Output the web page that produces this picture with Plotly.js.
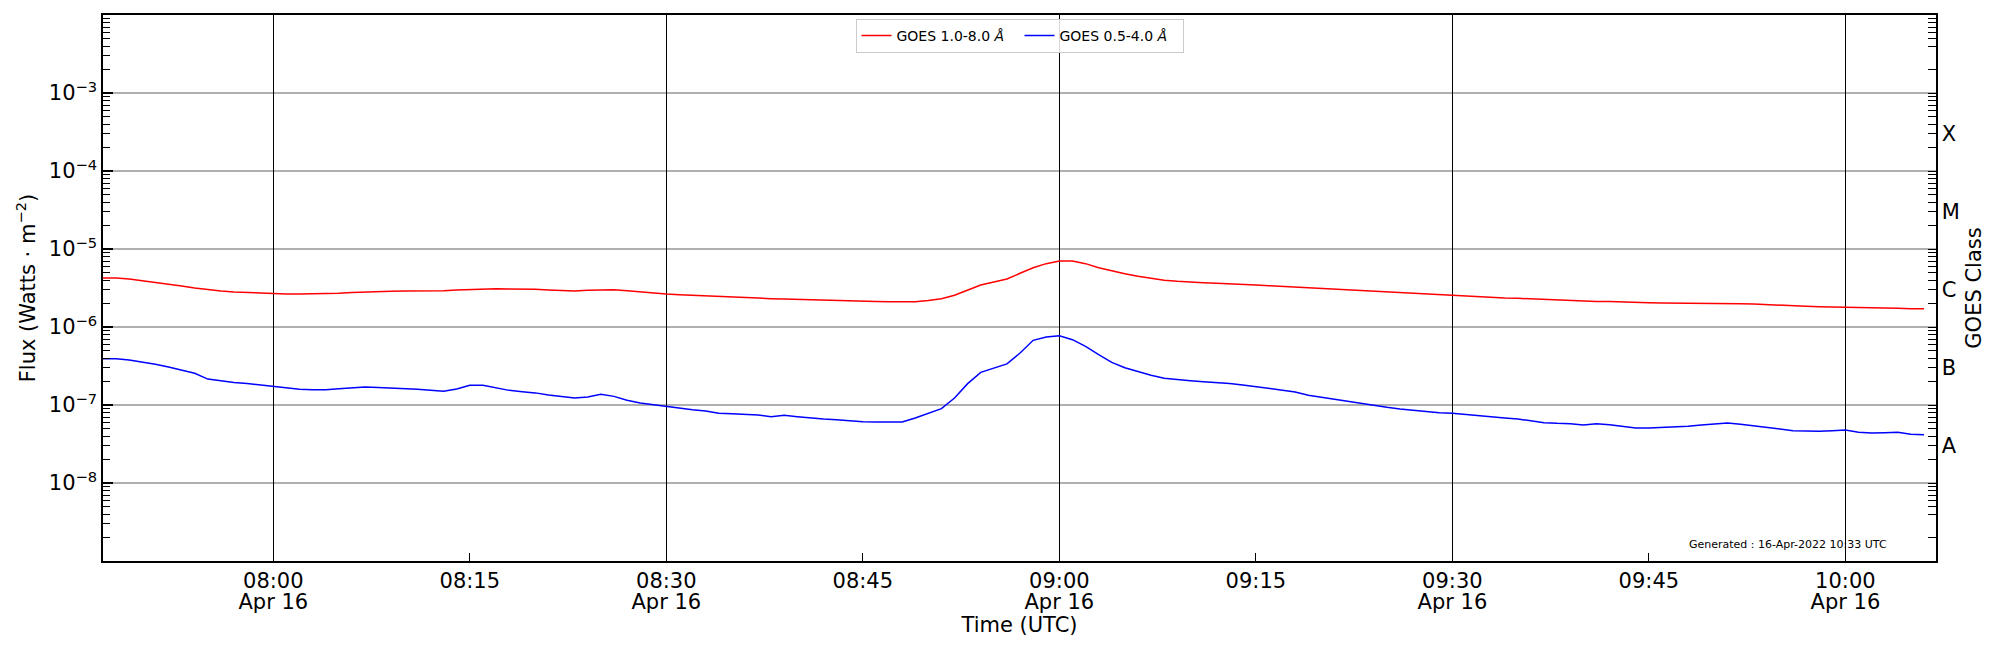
<!DOCTYPE html>
<html>
<head>
<meta charset="utf-8">
<script src="https://cdn.plot.ly/plotly-3.0.1.min.js"></script>
<style>
body { margin: 0; background: #fff; }
#goes { width: 2000px; height: 650px; }
</style>
</head>
<body>
<div id="goes"></div>
<script>
var day = "2022-04-16 ";

var times = [
	"07:47","07:48","07:49","07:50","07:51","07:52","07:53","07:54","07:55","07:56","07:57","07:58","07:59",
	"08:00","08:01","08:02","08:03","08:04","08:05","08:06","08:07","08:08","08:09","08:10","08:11","08:12","08:13","08:14",
	"08:15","08:16","08:17","08:18","08:19","08:20","08:21","08:22","08:23","08:24","08:25","08:26","08:27","08:28","08:29",
	"08:30","08:31","08:32","08:33","08:34","08:35","08:36","08:37","08:38","08:39","08:40","08:41","08:42","08:43","08:44",
	"08:45","08:46","08:47","08:48","08:49","08:50","08:51","08:52","08:53","08:54","08:55","08:56","08:57","08:58","08:59",
	"09:00","09:01","09:02","09:03","09:04","09:05","09:06","09:07","09:08","09:09","09:10","09:11","09:12","09:13","09:14",
	"09:15","09:16","09:17","09:18","09:19","09:20","09:21","09:22","09:23","09:24","09:25","09:26","09:27","09:28","09:29",
	"09:30","09:31","09:32","09:33","09:34","09:35","09:36","09:37","09:38","09:39","09:40","09:41","09:42","09:43","09:44",
	"09:45","09:46","09:47","09:48","09:49","09:50","09:51","09:52","09:53","09:54","09:55","09:56","09:57","09:58","09:59",
	"10:00","10:01","10:02","10:03","10:04","10:05","10:06"
];

// GOES 1.0-8.0 A (W m-2)
var xrsLong = [
	4.25e-6, 4.25e-6, 4.12e-6, 3.93e-6, 3.74e-6, 3.56e-6, 3.36e-6, 3.16e-6, 3.01e-6, 2.89e-6,
	2.81e-6, 2.76e-6, 2.70e-6, 2.68e-6, 2.65e-6, 2.65e-6, 2.65e-6, 2.68e-6, 2.70e-6, 2.76e-6,
	2.81e-6, 2.84e-6, 2.87e-6, 2.89e-6, 2.89e-6, 2.89e-6, 2.92e-6, 2.98e-6, 3.04e-6, 3.10e-6,
	3.10e-6,
	3.07e-6, 3.07e-6, 3.04e-6, 2.98e-6, 2.92e-6, 2.89e-6, 2.95e-6, 3.01e-6, 3.01e-6, 2.92e-6,
	2.81e-6, 2.73e-6, 2.65e-6, 2.60e-6, 2.55e-6, 2.50e-6, 2.45e-6, 2.40e-6, 2.35e-6, 2.33e-6,
	2.31e-6, 2.29e-6, 2.26e-6, 2.24e-6, 2.22e-6, 2.20e-6, 2.18e-6, 2.15e-6, 2.13e-6, 2.11e-6,
	2.09e-6, 2.11e-6, 2.18e-6, 2.31e-6, 2.55e-6, 2.95e-6, 3.46e-6, 3.78e-6, 4.12e-6, 4.88e-6,
	5.76e-6, 6.49e-6, 7.02e-6, 7.02e-6, 6.49e-6, 5.76e-6, 5.22e-6, 4.83e-6, 4.46e-6, 4.17e-6,
	3.97e-6, 3.85e-6, 3.74e-6, 3.70e-6, 3.63e-6, 3.59e-6, 3.52e-6, 3.46e-6, 3.39e-6, 3.32e-6,
	3.26e-6,
	3.16e-6, 3.10e-6, 3.04e-6, 2.98e-6, 2.92e-6, 2.87e-6, 2.78e-6, 2.73e-6, 2.68e-6, 2.62e-6,
	2.57e-6, 2.52e-6, 2.50e-6, 2.45e-6, 2.40e-6, 2.35e-6, 2.33e-6, 2.29e-6, 2.26e-6, 2.22e-6,
	2.18e-6, 2.13e-6, 2.13e-6, 2.13e-6, 2.09e-6, 2.07e-6, 2.05e-6, 2.03e-6, 2.03e-6, 2.01e-6,
	2.01e-6, 2.01e-6, 2.01e-6, 1.99e-6, 1.97e-6, 1.93e-6, 1.92e-6, 1.88e-6, 1.84e-6, 1.82e-6,
	1.81e-6, 1.81e-6, 1.79e-6, 1.77e-6, 1.75e-6, 1.74e-6, 1.72e-6, 1.72e-6
];

// GOES 0.5-4.0 A (W m-2)
var xrsShort = [
	3.93e-7, 3.93e-7, 3.78e-7, 3.56e-7, 3.32e-7, 3.07e-7, 2.81e-7, 2.55e-7, 2.15e-7, 2.03e-7,
	1.95e-7, 1.88e-7, 1.81e-7, 1.75e-7, 1.67e-7, 1.59e-7, 1.57e-7, 1.57e-7, 1.62e-7, 1.67e-7,
	1.70e-7, 1.68e-7, 1.65e-7, 1.64e-7, 1.59e-7, 1.54e-7, 1.50e-7, 1.60e-7, 1.79e-7, 1.79e-7,
	1.65e-7,
	1.54e-7, 1.48e-7, 1.43e-7, 1.34e-7, 1.29e-7, 1.23e-7, 1.27e-7, 1.37e-7, 1.29e-7, 1.15e-7,
	1.06e-7, 1.01e-7, 9.43e-8, 9.07e-8, 8.71e-8, 8.37e-8, 7.82e-8, 7.74e-8, 7.59e-8, 7.44e-8,
	7.09e-8, 7.37e-8, 7.09e-8, 6.81e-8, 6.61e-8, 6.49e-8, 6.23e-8, 6.11e-8, 6.05e-8, 6.05e-8,
	6.05e-8, 6.81e-8, 7.74e-8, 8.97e-8, 1.23e-7, 1.88e-7, 2.62e-7, 2.95e-7, 3.36e-7, 4.64e-7,
	6.75e-7, 7.44e-7, 7.74e-7, 6.88e-7, 5.65e-7, 4.42e-7, 3.52e-7, 3.01e-7, 2.68e-7, 2.40e-7,
	2.20e-7, 2.11e-7, 2.05e-7, 1.99e-7, 1.95e-7, 1.88e-7, 1.81e-7, 1.72e-7, 1.64e-7, 1.56e-7,
	1.47e-7,
	1.33e-7, 1.25e-7, 1.18e-7, 1.11e-7, 1.05e-7, 9.90e-8, 9.33e-8, 8.89e-8, 8.54e-8, 8.13e-8,
	7.97e-8, 7.82e-8, 7.52e-8, 7.30e-8, 7.09e-8, 6.81e-8, 6.61e-8, 6.23e-8, 5.94e-8, 5.82e-8,
	5.76e-8, 5.54e-8, 5.76e-8, 5.59e-8, 5.33e-8, 5.07e-8, 5.07e-8, 5.12e-8, 5.17e-8, 5.33e-8,
	5.54e-8, 5.76e-8, 5.88e-8, 5.65e-8, 5.38e-8, 5.12e-8, 4.97e-8, 4.69e-8, 4.64e-8, 4.60e-8,
	4.69e-8, 4.78e-8, 4.46e-8, 4.38e-8, 4.42e-8, 4.46e-8, 4.21e-8, 4.17e-8
];

var tickTimes = ["08:00","08:15","08:30","08:45","09:00","09:15","09:30","09:45","10:00"];
var lineTimes = ["08:00","08:30","09:00","09:30","10:00"];
var dateLabels = ["Apr 16","Apr 16","Apr 16","Apr 16","Apr 16"];

var fluxTicks = [1e-8, 1e-7, 1e-6, 1e-5, 1e-4, 1e-3];
var fluxLabels = ["10<sup>\u22128</sup>","10<sup>\u22127</sup>","10<sup>\u22126</sup>",
	"10<sup>\u22125</sup>","10<sup>\u22124</sup>","10<sup>\u22123</sup>"];
var classTicks = [3e-8, 3e-7, 3e-6, 3e-5, 3e-4];
var classLabels = ["A", "B", "C", "M", "X"];

function stamp(list)
{
	var out = [];
	for (var i = 0; i < list.length; i++)
	{
		out.push(day + list[i]);
	}
	return out;
}

// log minor tick positions, 2..9 per decade
function minorTicks(skipThree)
{
	var vals = [];
	for (var e = -9; e <= -3; e++)
	{
		for (var k = 1; k <= 9; k++)
		{
			if (k == 1 && !skipThree) continue;
			if (k == 3 && skipThree) continue;
			if (k == 1 && e == -9) continue;
			vals.push(k * Math.pow(10, e));
		}
	}
	return vals;
}

var font = "DejaVu Sans, Liberation Sans, sans-serif";
var xRange = [day + "07:47:00", day + "10:06:55"];

var traces = [
	{
		x: stamp(times), y: xrsLong, type: "scatter", mode: "lines",
		name: "GOES 1.0-8.0 <i>\u00c5</i>",
		line: {color: "#ff0000", width: 1.5},
		xaxis: "x", yaxis: "y"
	},
	{
		x: stamp(times), y: xrsShort, type: "scatter", mode: "lines",
		name: "GOES 0.5-4.0 <i>\u00c5</i>",
		line: {color: "#0000ff", width: 1.5},
		xaxis: "x2", yaxis: "y2"
	}
];

var layout = {
	width: 2000, height: 650,
	margin: {l: 103, r: 64, t: 15, b: 89},
	paper_bgcolor: "#fff", plot_bgcolor: "#fff",
	font: {family: font, size: 21, color: "#000"},
	showlegend: true,
	legend: {
		orientation: "h", x: 0.5, xanchor: "center", y: 0.993, yanchor: "top",
		bgcolor: "rgba(255,255,255,0.85)", bordercolor: "#cccccc", borderwidth: 1,
		font: {family: font, size: 14}, itemwidth: 30,
		entrywidth: 118, entrywidthmode: "pixels"
	},
	xaxis: {
		type: "date", range: xRange,
		tickmode: "array", tickvals: stamp(tickTimes), ticktext: tickTimes,
		ticks: "inside", ticklen: 8, tickwidth: 1.2, tickcolor: "#000",
		showgrid: false, zeroline: false,
		showline: true, linecolor: "#000", linewidth: 1.6, mirror: true,
		tickfont: {size: 21},
		title: {text: "Time (UTC)", font: {size: 21}, standoff: 25}
	},
	xaxis2: {
		type: "date", range: xRange, overlaying: "x", anchor: "y", side: "bottom",
		tickmode: "array", tickvals: stamp(lineTimes), ticktext: dateLabels,
		showgrid: true, gridcolor: "#000", gridwidth: 1.3,
		showticklabels: true, ticklabelstandoff: 26, tickfont: {size: 21},
		ticks: "", showline: false, zeroline: false
	},
	yaxis: {
		type: "log", range: [-9, -2],
		tickmode: "array", tickvals: fluxTicks, ticktext: fluxLabels,
		ticks: "inside", ticklen: 10, tickwidth: 1.2, tickcolor: "#000",
		minor: {tickmode: "array", tickvals: minorTicks(false), ticks: "inside", ticklen: 7,
			tickwidth: 1, tickcolor: "#000", showgrid: false},
		showgrid: true, gridcolor: "#b0b0b0", gridwidth: 1.3, zeroline: false,
		showline: true, linecolor: "#000", linewidth: 1.6,
		tickfont: {size: 21},
		title: {text: "Flux (Watts \u00b7 m<sup>\u22122</sup>)", font: {size: 21}, standoff: 7}
	},
	yaxis2: {
		type: "log", range: [-9, -2], overlaying: "y", side: "right", anchor: "x",
		tickmode: "array", tickvals: classTicks, ticktext: classLabels,
		ticks: "inside", ticklen: 8, tickwidth: 1, tickcolor: "#000",
		minor: {tickmode: "array", tickvals: minorTicks(true), ticks: "inside", ticklen: 8,
			tickwidth: 1, tickcolor: "#000", showgrid: false},
		showgrid: false, zeroline: false,
		showline: true, linecolor: "#000", linewidth: 1.6,
		tickfont: {size: 21},
		title: {text: "GOES Class", font: {size: 21}, standoff: 7}
	},
	annotations: [
		{
			xref: "paper", yref: "paper", x: 0.9744, y: 0.031,
			xanchor: "right", yanchor: "middle", showarrow: false,
			text: "Generated : 16-Apr-2022 10:33 UTC",
			font: {family: font, size: 11, color: "#000"}
		}
	]
};

Plotly.newPlot("goes", traces, layout, {staticPlot: true, displayModeBar: false});
</script>
</body>
</html>
